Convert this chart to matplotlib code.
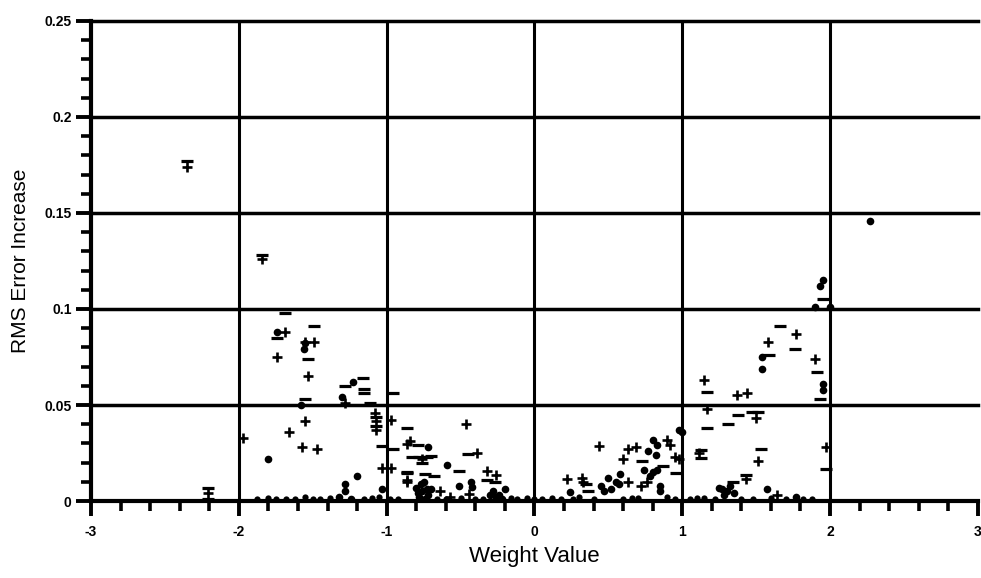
import matplotlib
matplotlib.use("Agg")
import matplotlib.pyplot as plt
from matplotlib.ticker import MultipleLocator, FixedLocator

plt.rcParams["font.family"] = ["Liberation Sans", "DejaVu Sans"]
plt.rcParams["axes.unicode_minus"] = False

# weight perturbation results: (weight value, RMS error increase)
plus_x = [-2.35, -1.84, -2.21, -1.97, -1.69, -1.55, -1.49, -1.74, -1.53, -1.28,
          -1.08, -1.07, -1.07, -0.97, -1.55, -1.66, -1.57, -1.47, -1.03, -0.97,
          -0.86, -0.86, -0.46, -0.84, -0.76, -0.39, -0.32, -0.26, -0.86, -0.44,
          -0.64, -0.57,
          0.44, 0.63, 0.69, 0.90, 0.92, 0.95, 0.98, 1.11, 0.60, 0.22, 0.32, 0.33,
          0.63, 0.72, 0.76, 1.77, 1.58, 1.90, 1.15, 1.37, 1.44, 1.17, 1.50, 1.51,
          1.97, 1.43, 1.64]
plus_y = [0.174, 0.126, 0.004, 0.033, 0.088, 0.083, 0.083, 0.075, 0.065, 0.051,
          0.046, 0.0415, 0.037, 0.042, 0.0415, 0.036, 0.028, 0.027, 0.017, 0.017,
          0.0295, 0.010, 0.040, 0.031, 0.022, 0.025, 0.0155, 0.0135, 0.011, 0.0035,
          0.005, 0.002,
          0.0286, 0.027, 0.028, 0.032, 0.029, 0.023, 0.022, 0.025, 0.022, 0.0115, 0.012, 0.010,
          0.010, 0.008, 0.010, 0.087, 0.083, 0.074, 0.063, 0.055, 0.056, 0.048, 0.043, 0.021,
          0.028, 0.0115, 0.003]

dash_x = [-2.35, -1.84, -2.21, -2.21, -1.69, -1.74, -1.49, -1.53, -1.16, -1.28,
          -1.15, -1.15, -1.55, -1.11, -1.07, -1.07, -0.96, -1.03, -0.96, -0.86,
          -0.86, -0.79, -0.83, -0.78, -0.73, -0.70, -0.76, -0.45, -0.51, -0.32,
          -0.86, -0.74, -0.68, -0.27,
          0.73, 0.96, 0.36, 0.35, 1.95, 1.66, 1.76, 1.59, 1.91, 1.93, 1.17, 1.38,
          1.47, 1.51, 1.17, 1.31, 1.53, 1.97, 1.34, 0.87, 1.13, 1.13, 1.43]
dash_y = [0.177, 0.128, 0.007, 0.001, 0.098, 0.085, 0.091, 0.074, 0.064, 0.060,
          0.0585, 0.0565, 0.053, 0.051, 0.044, 0.039, 0.056, 0.0285, 0.027, 0.038,
          0.015, 0.029, 0.023, 0.023, 0.023, 0.0235, 0.020, 0.0245, 0.0155, 0.011,
          0.0145, 0.014, 0.013, 0.010,
          0.021, 0.0145, 0.005, 0.009, 0.105, 0.091, 0.079, 0.076, 0.067, 0.053, 0.057, 0.045,
          0.0465, 0.0465, 0.038, 0.040, 0.027, 0.0165, 0.010, 0.018, 0.0265, 0.0225, 0.0135]

blob_x = [-1.80, -1.74, -1.56, -1.55, -1.23, -1.30, -1.58, -1.20, -1.28, -1.28,
          -1.03, -1.32, -1.24, -0.72, -0.59, -0.51, -0.43, -0.42, -0.80, -0.76,
          -0.72, -0.78, -0.70, -0.75, -0.28, -0.24, -0.20, -0.22,
          -0.79, -0.74, -0.77, -0.73, -0.26, -0.30,
          0.80, 0.83, 0.77, 0.82, 1.00, 0.74, 0.80, 0.85, 0.85, 0.24, 0.45, 0.50,
          0.55, 0.58, 0.47, 0.98, 0.83, 1.95, 1.93, 1.90, 2.00, 1.54, 1.54, 1.95,
          1.95, 1.25, 1.30, 1.35, 1.28, 1.57, 1.77, 2.27,
          0.52, 0.57, 0.78, 1.32, 1.27]
blob_y = [0.022, 0.088, 0.079, 0.0825, 0.062, 0.054, 0.050, 0.013, 0.009, 0.005,
          0.006, 0.002, 0.001, 0.028, 0.0185, 0.008, 0.010, 0.0075, 0.007, 0.005,
          0.003, 0.002, 0.006, 0.010, 0.005, 0.003, 0.006, 0.001,
          0.004, 0.001, 0.009, 0.006, 0.002, 0.003,
          0.032, 0.029, 0.026, 0.024, 0.036, 0.016, 0.015, 0.008, 0.005, 0.0047, 0.008, 0.012,
          0.010, 0.014, 0.005, 0.037, 0.016, 0.115, 0.112, 0.101, 0.101, 0.075, 0.069, 0.058,
          0.061, 0.007, 0.005, 0.004, 0.003, 0.006, 0.002, 0.146,
          0.006, 0.009, 0.013, 0.008, 0.006]

# near-zero increases along the bottom of the plot
base_x = [-1.88, -1.80, -1.75, -1.68, -1.62, -1.55, -1.50, -1.45, -1.38, -1.15,
          -1.10, -1.05, -0.98, -0.92, -0.66, -0.60, -0.50, -0.40, -0.35, -0.16,
          -0.12, -0.05, 0.0, 0.05, 0.12, 0.18, 0.26, 0.30, 0.40, 0.60, 0.66, 0.70,
          0.90, 0.95, 1.05, 1.10, 1.15, 1.22, 1.40, 1.48, 1.60, 1.70, 1.82, 1.88]
base_y = [0.001, 0.0015, 0.001, 0.001, 0.001, 0.002, 0.001, 0.001, 0.0015, 0.001,
          0.0015, 0.002, 0.001, 0.001, 0.001, 0.001, 0.0015, 0.001, 0.001, 0.0015,
          0.001, 0.0015, 0.001, 0.001, 0.0015, 0.001, 0.001, 0.002, 0.001, 0.001, 0.0015, 0.0015,
          0.002, 0.001, 0.001, 0.0015, 0.0015, 0.001, 0.001, 0.001, 0.0015, 0.001, 0.001, 0.001]

fig = plt.figure(figsize=(9.81, 5.78), dpi=100)
ax = fig.add_axes([0.0928, 0.1332, 0.904, 0.8305])

ax.plot(plus_x, plus_y, "+", color="black", ms=7, mew=1.9)
ax.plot(dash_x, dash_y, "_", color="black", ms=8, mew=2.3)
ax.plot(blob_x, blob_y, "o", color="black", ms=5.5, mew=0)
ax.plot(base_x, base_y, "o", color="black", ms=4.5, mew=0)

ax.set_xlim(-3, 3)
ax.set_ylim(0, 0.25)

for yv in [0.05, 0.1, 0.15, 0.2, 0.25]:
    ax.axhline(yv, color="black", lw=2.5, clip_on=False)
for xv in [-2, -1, 0, 1, 2]:
    ax.axvline(xv, color="black", lw=2.2)

for s in ["top", "right"]:
    ax.spines[s].set_visible(False)
ax.spines["left"].set_linewidth(3.0)
ax.spines["bottom"].set_linewidth(3.0)

ax.xaxis.set_major_locator(MultipleLocator(1))
ax.xaxis.set_minor_locator(MultipleLocator(0.2))
ax.yaxis.set_major_locator(FixedLocator([0, 0.05, 0.1, 0.15, 0.2, 0.25]))
ax.yaxis.set_minor_locator(MultipleLocator(0.01))
ax.set_yticklabels(["0", "0.05", "0.1", "0.15", "0.2", "0.25"])

ax.tick_params(axis="both", which="major", direction="out", length=11, width=2.8,
               labelsize=10, color="black")
ax.tick_params(axis="both", which="minor", direction="out", length=7, width=2.6)
ax.tick_params(axis="x", which="major", pad=6)
ax.tick_params(axis="y", which="major", pad=3)
for lbl in ax.get_xticklabels() + ax.get_yticklabels():
    lbl.set_fontweight("bold")

ax.set_xlabel("Weight Value", fontsize=16, labelpad=5)
ax.set_ylabel("RMS Error Increase", fontsize=15, labelpad=10)

fig.savefig("out.png", dpi=100)
